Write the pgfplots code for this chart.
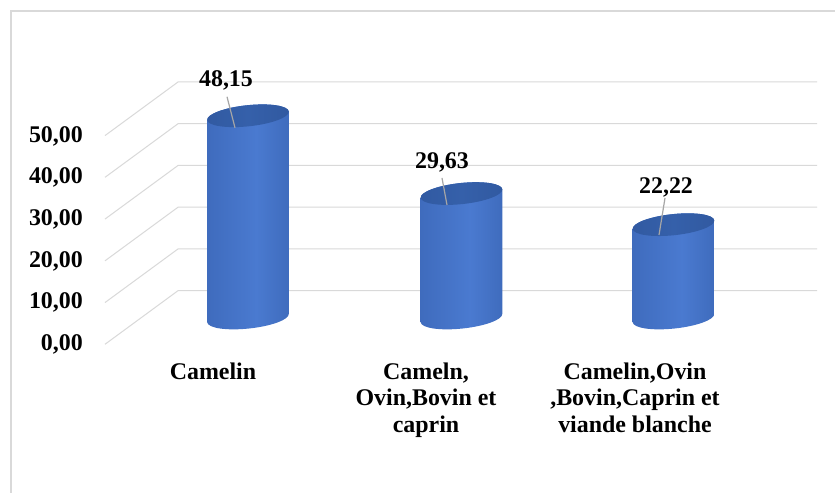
\documentclass[border=0pt]{standalone}
\usepackage{pgfplots}
\pgfplotsset{compat=1.18}
\usepackage{fontspec}
\setmainfont{Liberation Serif}
\definecolor{gridc}{HTML}{D9D9D9}
\definecolor{leadc}{HTML}{A6A6A6}
\definecolor{cA}{HTML}{2D5296}
\definecolor{cA2}{HTML}{3D69BA}
\definecolor{cB}{HTML}{4A7AD0}
\definecolor{cC}{HTML}{3C68B8}
\definecolor{cD}{HTML}{26457F}
\definecolor{tA}{HTML}{2E5499}
\definecolor{tB}{HTML}{3560AA}
\definecolor{tC}{HTML}{2D5397}
\pgfdeclarehorizontalshading{cyl}{100bp}{color(0bp)=(cA); color(20bp)=(cA2); color(55bp)=(cB); color(80bp)=(cC); color(100bp)=(cD)}
\pgfdeclarehorizontalshading{cyltop}{100bp}{color(0bp)=(tA); color(50bp)=(tB); color(100bp)=(tC)}
\pgfdeclareplotmark{nothing}{}
\newcommand\lblfont{\fontsize{24}{27}\selectfont\bfseries}
\newcommand\drawcyl{%
  \pgfmathsetmacro\h{4.2*\v}%
  \begin{pgfscope}%
  \pgfpathmoveto{\pgfpoint{-40.8bp}{-4.3bp}}%
  \pgfpathlineto{\pgfpoint{-40.8bp}{-4.3bp-\h bp}}%
  \pgfpatharcaxes{180}{360}{\pgfpoint{40.8bp}{4.3bp}}{\pgfpoint{-1.1bp}{10.5bp}}%
  \pgfpathlineto{\pgfpoint{40.8bp}{4.3bp}}%
  \pgfpatharcaxes{0}{180}{\pgfpoint{40.8bp}{4.3bp}}{\pgfpoint{-1.1bp}{10.5bp}}%
  \pgfpathclose
  \pgfshadepath{cyl}{0}%
  \end{pgfscope}%
  \begin{pgfscope}%
  \pgfpathellipse{\pgfpointorigin}{\pgfpoint{40.8bp}{4.3bp}}{\pgfpoint{-1.1bp}{10.5bp}}%
  \pgfshadepath{cyltop}{0}%
  \end{pgfscope}%
  \begin{pgfscope}%
  \pgfsetstrokecolor{leadc}\pgfsetlinewidth{1.2bp}%
  \pgfpathmoveto{\pgfpoint{\ax bp}{\ay bp}}\pgfpathlineto{\pgfpoint{\bx bp}{\by bp}}\pgfusepath{stroke}%
  \end{pgfscope}%
  \begin{pgfscope}%
  \pgfsetcolor{black}%
  \pgftext[at=\pgfpoint{\lx bp}{\ly bp}]{\lblfont\pgfmathprintnumber[fixed,fixed zerofill,precision=2,use comma,assume math mode=true]{\v}}%
  \end{pgfscope}%
}
\begin{document}
\begin{tikzpicture}
\useasboundingbox (0,0) rectangle (835bp,493bp);
\fill[white] (0,0) rectangle (835bp,493bp);
\draw[gridc, line width=1.6bp] (11bp,0) -- (11bp,482bp) -- (835bp,482bp);
% back wall and floor-perspective gridlines
\begin{axis}[at={(0,0)}, anchor=south west, width=835bp, height=493bp, scale only axis,
  xmin=0, xmax=835, ymin=-48.47, ymax=69.65, hide axis, clip=false]
  \addplot[gridc, line width=1bp] coordinates {(105,-12.84) (178,0) (817,0)};
  \addplot[gridc, line width=1bp] coordinates {(105,-2.84) (178,10) (817,10)};
  \addplot[gridc, line width=1bp] coordinates {(105,7.16) (178,20) (817,20)};
  \addplot[gridc, line width=1bp] coordinates {(105,17.16) (178,30) (817,30)};
  \addplot[gridc, line width=1bp] coordinates {(105,27.16) (178,40) (817,40)};
  \addplot[gridc, line width=1bp] coordinates {(105,37.16) (178,50) (817,50)};
\end{axis}
% front tick labels and category labels
\begin{axis}[at={(83bp,148.7bp)}, anchor=south west, width=734bp, height=208.3bp, scale only axis,
  xmin=83, xmax=817, ymin=0, ymax=50,
  axis line style={draw=none}, tick style={draw=none}, major tick length=0pt,
  ytick={0,10,20,30,40,50},
  xtick={213,426,635},
  xticklabels={Camelin,{Cameln,\\Ovin,Bovin et\\caprin},{Camelin,Ovin\\,Bovin,Caprin et\\viande blanche}},
  ticklabel style={font=\lblfont},
  yticklabel style={anchor=east, inner sep=0pt, /pgf/number format/.cd, fixed, fixed zerofill, precision=2, use comma, assume math mode=true},
  xticklabel style={anchor=north, align=center, inner sep=0pt, yshift=-18bp},
  scaled y ticks=false]
  \addplot[draw=none] coordinates {(213,0)};
\end{axis}
% cylinders
\begin{axis}[at={(0,0)}, anchor=south west, width=835bp, height=493bp, scale only axis,
  xmin=0, xmax=835, ymin=-41.667, ymax=75.714, hide axis, clip=false]
  \addplot[color=black, scatter, only marks, mark=nothing,
    visualization depends on={\thisrow{y} \as \v},
    visualization depends on={\thisrow{lx} \as \lx},
    visualization depends on={\thisrow{ly} \as \ly},
    visualization depends on={\thisrow{ax} \as \ax},
    visualization depends on={\thisrow{ay} \as \ay},
    visualization depends on={\thisrow{bx} \as \bx},
    visualization depends on={\thisrow{by} \as \by},
    scatter/@pre marker code/.code={\drawcyl},
    scatter/@post marker code/.code={}]
    table[x=x, y=y] {
x y lx ly ax ay bx by
248 48.15 -22 35.8 -21 19 -13 -12
461.5 29.63 -19.5 31.6 -19.5 15.6 -14.5 -11.4
673.5 22.22 -7.5 37.7 -8.5 26.7 -14.5 -10.3
};
\end{axis}
\end{tikzpicture}
\end{document}
